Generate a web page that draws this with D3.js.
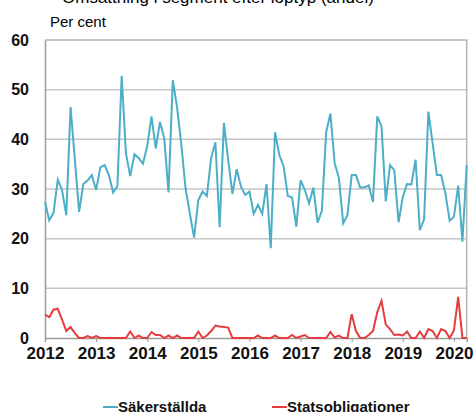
<!DOCTYPE html>
<html>
<head>
<meta charset="utf-8">
<script src="https://cdn.jsdelivr.net/npm/d3@7"></script>
<style>
  body { margin: 0; background: #fff; }
  svg { display: block; font-family: "Liberation Sans", Arial, sans-serif; }
</style>
</head>
<body>
<div class="plot1"></div>
<script>
var bodySelection1 = d3.select(".plot1");

// monthly observations, Jan 2012 .. Apr 2020
var sakerstallda = [27.4, 23.7, 25.2, 31.9, 29.8, 24.7, 46.5, 36.0, 25.4, 31.0, 31.7, 32.8,
  29.8, 34.4, 34.8, 32.8, 29.3, 30.6, 52.8, 37.2, 32.6, 37.0, 36.2, 35.1,
  38.7, 44.6, 38.2, 43.5, 40.2, 29.3, 51.9, 46.5, 39.0, 30.1, 25.1, 20.2,
  27.8, 29.5, 28.6, 36.2, 39.4, 22.3, 43.3, 35.9, 29.0, 34.0, 30.5, 28.8,
  29.5, 25.0, 26.8, 25.0, 31.0, 18.1, 41.4, 36.9, 34.6, 28.6, 28.3, 22.4,
  31.8, 29.8, 27.1, 30.3, 23.2, 25.6, 41.4, 45.2, 35.2, 32.2, 23.1, 24.7,
  32.8, 32.8, 30.3, 30.3, 30.7, 27.4, 44.6, 42.6, 27.5, 34.8, 33.8, 23.3,
  28.4, 31.0, 30.9, 35.9, 21.7, 23.9, 45.6, 39.2, 32.8, 32.8, 29.1, 23.6,
  24.4, 30.7, 19.4, 34.8];
var statsobligationer = [4.7, 4.2, 5.7, 5.9, 3.7, 1.4, 2.2, 1.0, 0, 0, 0.4, 0,
  0.4, 0, 0, 0, 0, 0, 0, 0, 1.3, 0, 0.5, 0,
  0, 1.2, 0.6, 0.6, 0, 0.5, 0, 0.5, 0, 0, 0, 0,
  1.3, 0, 0.5, 1.4, 2.5, 2.3, 2.2, 2.1, 0, 0, 0, 0,
  0, 0, 0.5, 0, 0, 0, 0.5, 0, 0, 0, 0.6, 0,
  0.3, 0.6, 0, 0, 0, 0, 0, 1.2, 0.1, 0.5, 0, 0,
  4.8, 1.4, 0, 0, 0.6, 1.4, 5.2, 7.5, 2.7, 1.8, 0.6, 0.7,
  0.5, 1.3, 0, 0, 1.3, 0, 1.8, 1.4, 0, 1.8, 1.4, 0,
  1.5, 8.3, 0, 0];
var years = [2012, 2013, 2014, 2015, 2016, 2017, 2018, 2019, 2020];
var yTicks = [0, 10, 20, 30, 40, 50, 60];

var blue = "#4aafc7";
var red = "#e63c40";

var width = 475, height = 412;
var mLeft = 45, mRight = 466.7, mTop = 40, mBottom = 338;

var svgContainer = bodySelection1.append("svg")
  .attr("width", width)
  .attr("height", height);

var x = d3.scaleLinear().domain([0, sakerstallda.length - 1]).range([mLeft, mRight]);
var y = d3.scaleLinear().domain([0, 60]).range([mBottom, mTop]);

// title, mostly cut off at the top of the picture
svgContainer.append("text")
  .attr("x", 62).attr("y", 3)
  .style("font-size", "17px")
  .text("Omsättning i segment efter löptyp (andel)");

svgContainer.append("text")
  .attr("x", 50).attr("y", 27)
  .style("font-size", "15px")
  .text("Per cent");

// gridlines
svgContainer.selectAll("line.grid")
  .data(yTicks.filter(function(d) { return d > 0 && d < 60; }))
  .enter().append("line")
  .attr("class", "grid")
  .attr("x1", mLeft).attr("x2", mRight)
  .attr("y1", function(d) { return y(d); })
  .attr("y2", function(d) { return y(d); })
  .style("stroke", "#c6c6c6")
  .style("stroke-width", 1.5);

// frame
svgContainer.append("path")
  .attr("d", "M" + mLeft + "," + mTop + "H" + mRight + "V" + mBottom)
  .style("fill", "none")
  .style("stroke", "#b4b4b4")
  .style("stroke-width", 1.5);

var yAxis = d3.axisLeft(y).tickValues(yTicks).tickSize(0).tickPadding(16);
var gy = svgContainer.append("g")
  .attr("transform", "translate(" + mLeft + ",0)")
  .call(yAxis);
gy.select(".domain").style("stroke", "#9a9a9a").style("stroke-width", 1.5);
gy.selectAll("text")
  .style("font-size", "16px")
  .style("font-weight", "bold")
  .style("fill", "#111");

var xAxis = d3.axisBottom(x)
  .tickValues(years.map(function(d, i) { return i * 12; }))
  .tickFormat(function(d, i) { return years[i]; })
  .tickSize(4).tickPadding(5);
var gx = svgContainer.append("g")
  .attr("transform", "translate(0," + mBottom + ")")
  .call(xAxis);
gx.select(".domain").style("stroke", "#9a9a9a").style("stroke-width", 1.5);
gx.selectAll(".tick line").style("stroke", "#9a9a9a");
gx.selectAll("text")
  .style("font-size", "17px")
  .style("font-weight", "bold")
  .style("fill", "#111");

var line = d3.line()
  .x(function(d, i) { return x(i); })
  .y(function(d) { return y(d); });

svgContainer.append("path")
  .datum(statsobligationer)
  .attr("d", line)
  .style("fill", "none")
  .style("stroke", red)
  .style("stroke-width", 2);

svgContainer.append("path")
  .datum(sakerstallda)
  .attr("d", line)
  .style("fill", "none")
  .style("stroke", blue)
  .style("stroke-width", 2);

// legend
var legend = [{"text": "Säkerställda", "color": blue, "x": 103},
              {"text": "Statsobligationer", "color": red, "x": 272}];
var lg = svgContainer.selectAll("g.legend")
  .data(legend)
  .enter().append("g")
  .attr("class", "legend")
  .attr("transform", function(d) { return "translate(" + d.x + ",407)"; });
lg.append("line")
  .attr("x1", 0).attr("x2", 15)
  .style("stroke", function(d) { return d.color; })
  .style("stroke-width", 2);
lg.append("text")
  .attr("x", 15).attr("y", 5)
  .style("font-size", "15px")
  .style("font-weight", "bold")
  .style("fill", "#111")
  .text(function(d) { return d.text; });
</script>
</body>
</html>
